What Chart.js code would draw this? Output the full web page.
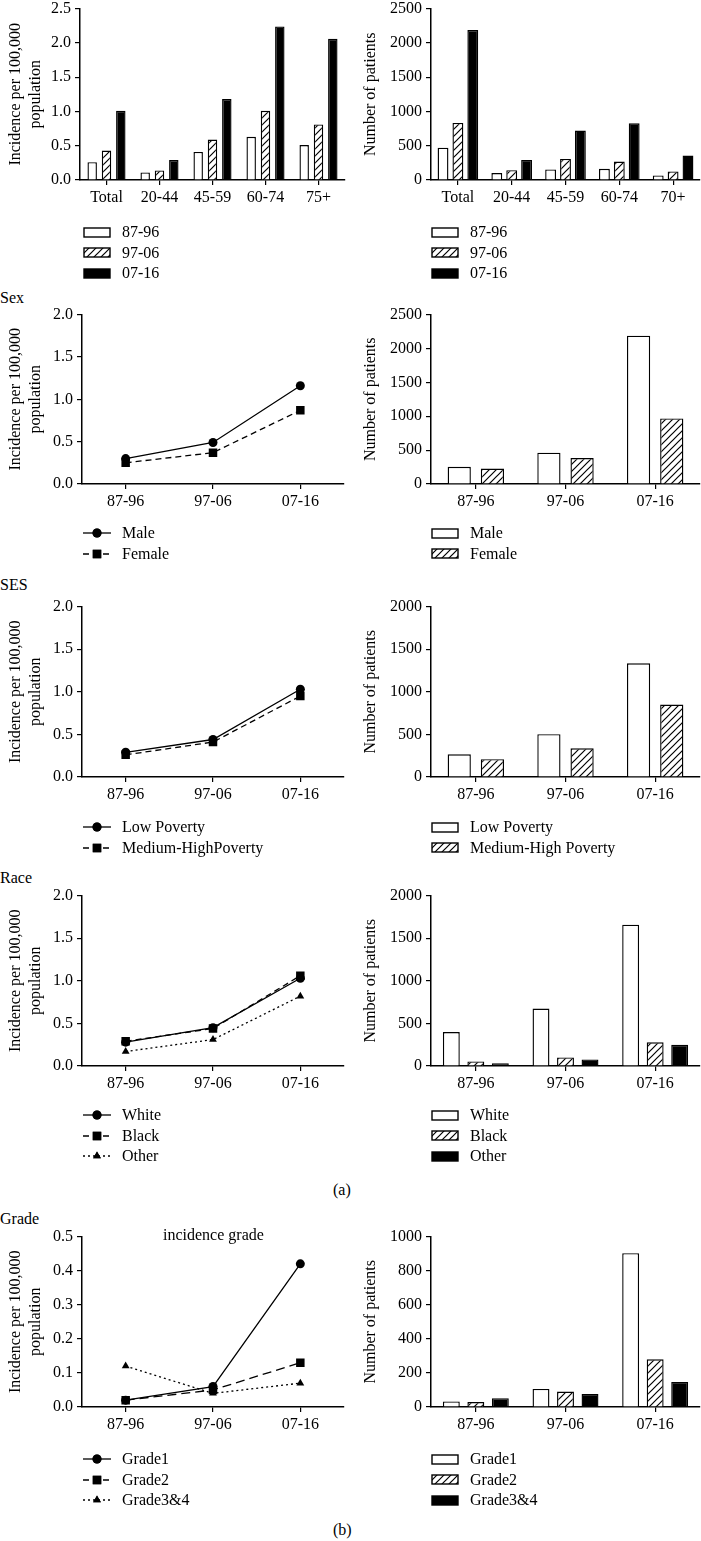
<!DOCTYPE html>
<html>
<head>
<meta charset="utf-8">
<script src="https://cdn.jsdelivr.net/npm/chart.js@4.4.1/dist/chart.umd.min.js"></script>
<style>
  html, body { margin: 0; padding: 0; background: #fff; }
  body { position: relative; width: 701px; height: 1541px; overflow: hidden;
         font-family: 'Liberation Serif', 'Times New Roman', serif; color: #000; }
  .abs { position: absolute; }
  .lbl { position: absolute; font-size: 16px; line-height: 20px; white-space: nowrap; }
  .legend { position: absolute; font-size: 16px; }
  .legend .row { height: 20.5px; display: flex; align-items: center; white-space: nowrap; }
  .legend canvas { margin-right: 11px; }
</style>
</head>
<body>
<div class="lbl" style="left:0;top:288px">Sex</div>
<div class="lbl" style="left:0;top:575px">SES</div>
<div class="lbl" style="left:0;top:868px">Race</div>
<div class="lbl" style="left:0;top:1209px">Grade</div>
<div class="lbl" style="left:333px;top:1180px">(a)</div>
<div class="lbl" style="left:333px;top:1520px">(b)</div>

<script>
// ---- data ----
const periods = ['87-96', '97-06', '07-16'];

const ageGroupsInc = ['Total', '20-44', '45-59', '60-74', '75+'];
const ageGroupsN = ['Total', '20-44', '45-59', '60-74', '70+'];
const ageInc8796 = [0.26, 0.11, 0.41, 0.63, 0.51];
const ageInc9706 = [0.43, 0.14, 0.59, 1.01, 0.81];
const ageInc0716 = [1.01, 0.29, 1.18, 2.24, 2.06];
const ageN8796 = [471, 101, 154, 163, 67];
const ageN9706 = [832, 144, 308, 269, 125];
const ageN0716 = [2188, 293, 721, 827, 356];

const sexIncMale = [0.30, 0.49, 1.16];
const sexIncFemale = [0.25, 0.37, 0.87];
const sexNMale = [253, 462, 2189];
const sexNFemale = [228, 384, 968];

const sesIncLow = [0.29, 0.44, 1.03];
const sesIncMed = [0.26, 0.41, 0.95];
const sesNLow = [267, 503, 1334];
const sesNMed = [209, 337, 851];

const raceIncWhite = [0.28, 0.45, 1.03];
const raceIncBlack = [0.29, 0.44, 1.06];
const raceIncOther = [0.17, 0.31, 0.82];
const raceNWhite = [399, 674, 1659];
const raceNBlack = [54, 101, 279];
const raceNOther = [31, 77, 248];

const gradeInc1 = [0.02, 0.06, 0.42];
const gradeInc2 = [0.02, 0.05, 0.13];
const gradeInc34 = [0.12, 0.04, 0.07];
const gradeN1 = [33, 106, 903];
const gradeN2 = [29, 91, 280];
const gradeN34 = [52, 77, 147];

const incTitle = ['Incidence per 100,000', 'population'];
const nTitle = 'Number of patients';

// ---- styling helpers ----
const FONT = "'Liberation Serif', 'Times New Roman', serif";
const FS = 16;
Chart.defaults.font.family = FONT;
Chart.defaults.color = '#000';

function makeHatch() {
  const c = document.createElement('canvas');
  c.width = 7; c.height = 7;
  const g = c.getContext('2d');
  g.fillStyle = '#fff';
  g.fillRect(0, 0, 7, 7);
  g.strokeStyle = '#000';
  g.lineWidth = 1.2;
  g.beginPath();
  g.moveTo(0, 7); g.lineTo(7, 0);
  g.moveTo(-1, 1); g.lineTo(1, -1);
  g.moveTo(6, 8); g.lineTo(8, 6);
  g.stroke();
  return g.createPattern(c, 'repeat');
}
const hatch = makeHatch();
const fills = ['#fff', hatch, '#000'];

const lineStyles = [
  { dash: [], point: 'circle', r: 4.5 },
  { dash: [6, 4], point: 'rect', r: 6 },
  { dash: [2, 3], point: 'triangle', r: 4.5 }
];

function barSets(names, series) {
  return series.map((d, i) => ({
    label: names[i], data: d, backgroundColor: fills[i],
    borderColor: '#000', borderWidth: 1.4
  }));
}

function lineSets(names, series, dashes) {
  return series.map((d, i) => {
    const st = lineStyles[i];
    return {
      label: names[i], data: d, borderColor: '#000', borderWidth: 1.3,
      borderDash: dashes ? dashes[i] : st.dash,
      pointStyle: st.point, pointRadius: st.r, pointBackgroundColor: '#000',
      pointBorderColor: '#000', pointBorderWidth: 0, tension: 0
    };
  });
}

// box: {left, width, axisX, axisRight, top, zero}
function makeChart(box, type, labels, datasets, y, barOpts) {
  const padTop = 12, xH = 34;
  const cv = document.createElement('canvas');
  const h = (box.zero - box.top) + padTop + xH;
  cv.width = box.width; cv.height = h;
  cv.className = 'abs';
  cv.style.left = box.left + 'px';
  cv.style.top = (box.top - padTop) + 'px';
  document.body.appendChild(cv);
  const yW = box.axisX - box.left;
  const tickGrid = { drawOnChartArea: false, drawTicks: true, tickLength: 5, color: '#000', lineWidth: 1.2 };
  if (barOpts) datasets.forEach(d => Object.assign(d, barOpts));
  return new Chart(cv, {
    type,
    data: { labels, datasets },
    options: {
      responsive: false, animation: false,
      layout: { padding: { top: padTop, left: 0, right: box.left + box.width - box.axisRight, bottom: 0 } },
      plugins: { legend: { display: false }, tooltip: { enabled: false } },
      scales: {
        x: {
          offset: true,
          grid: Object.assign({ offset: false }, tickGrid),
          border: { color: '#000', width: 1.5 },
          ticks: { font: { size: FS }, color: '#000', padding: 3, maxRotation: 0, autoSkip: false },
          afterFit: s => { s.height = xH; }
        },
        y: {
          min: y.min, max: y.max,
          grid: tickGrid,
          border: { color: '#000', width: 1.5 },
          ticks: { stepSize: y.step, font: { size: FS }, color: '#000', padding: 4, autoSkip: false,
                   callback: y.fmt },
          title: { display: true, text: y.title, color: '#000', font: { size: FS, lineHeight: 1.25 },
                   padding: { top: y.titlePad, bottom: 0 } },
          afterFit: s => { s.width = yW; }
        }
      }
    }
  });
}

function legendSwatch(kind, i) {
  const c = document.createElement('canvas');
  const g = c.getContext('2d');
  if (kind === 'bar') {
    c.width = 28; c.height = 11;
    g.fillStyle = fills[i];
    g.fillRect(1, 1, 26, 9);
    g.strokeStyle = '#000'; g.lineWidth = 1.4;
    g.strokeRect(1, 1, 26, 9);
  } else {
    const st = lineStyles[i];
    c.width = 28; c.height = 12;
    g.strokeStyle = '#000'; g.lineWidth = 1.3;
    g.setLineDash(st.dash);
    g.beginPath(); g.moveTo(0, 6); g.lineTo(28, 6); g.stroke();
    g.setLineDash([]);
    g.fillStyle = '#000';
    Chart.helpers.drawPoint(g, { pointStyle: st.point, radius: st.r, borderWidth: 0 }, 14, 6);
    g.fill();
  }
  return c;
}

function makeLegend(x, yCenter, kind, names) {
  const d = document.createElement('div');
  d.className = 'legend';
  d.style.left = x + 'px';
  d.style.top = (yCenter - 10.25) + 'px';
  names.forEach((n, i) => {
    const r = document.createElement('div');
    r.className = 'row';
    r.appendChild(legendSwatch(kind, i));
    const t = document.createElement('span');
    t.textContent = n;
    r.appendChild(t);
    d.appendChild(r);
  });
  document.body.appendChild(d);
}

const f1 = v => Number(v).toFixed(1);
const f0 = v => String(Math.round(v));
const L = (top, zero, axisX = 82) => ({ left: 0, width: 350, axisX, axisRight: 345, top, zero });
const R = (top, zero) => ({ left: 350, width: 351, axisX: 431, axisRight: 700, top, zero });
const incY = { min: 0, max: 2, step: 0.5, fmt: f1, title: incTitle, titlePad: 6 };
const nY2000 = { min: 0, max: 2000, step: 500, fmt: f0, title: nTitle, titlePad: 11 };
const bars3 = { categoryPercentage: 0.82, barPercentage: 0.69 };
const bars2 = { categoryPercentage: 0.74, barPercentage: 0.7 };

// ---- row 1: age ----
makeChart(L(7, 180, 80), 'bar', ageGroupsInc,
  barSets(periods, [ageInc8796, ageInc9706, ageInc0716]),
  Object.assign({}, incY, { max: 2.5 }), { categoryPercentage: 0.81, barPercentage: 0.66 });
makeChart(R(7, 180), 'bar', ageGroupsN,
  barSets(periods, [ageN8796, ageN9706, ageN0716]),
  Object.assign({}, nY2000, { max: 2500 }), { categoryPercentage: 0.83, barPercentage: 0.73 });
makeLegend(83, 232, 'bar', periods);
makeLegend(431, 232, 'bar', periods);

// ---- row 2: sex ----
const sexNames = ['Male', 'Female'];
makeChart(L(313, 484), 'line', periods, lineSets(sexNames, [sexIncMale, sexIncFemale]), incY);
makeChart(R(313, 484), 'bar', periods, barSets(sexNames, [sexNMale, sexNFemale]),
  Object.assign({}, nY2000, { max: 2500 }), bars2);
makeLegend(83, 533, 'line', sexNames);
makeLegend(431, 533, 'bar', sexNames);

// ---- row 3: SES ----
makeChart(L(605, 777), 'line', periods, lineSets(['Low Poverty', 'Medium-HighPoverty'], [sesIncLow, sesIncMed]), incY);
makeChart(R(605, 777), 'bar', periods, barSets(['Low Poverty', 'Medium-High Poverty'], [sesNLow, sesNMed]), nY2000, bars2);
makeLegend(83, 827, 'line', ['Low Poverty', 'Medium-HighPoverty']);
makeLegend(431, 827, 'bar', ['Low Poverty', 'Medium-High Poverty']);

// ---- row 4: race ----
const raceNames = ['White', 'Black', 'Other'];
makeChart(L(894, 1066), 'line', periods, lineSets(raceNames, [raceIncWhite, raceIncBlack, raceIncOther]), incY);
makeChart(R(894, 1066), 'bar', periods, barSets(raceNames, [raceNWhite, raceNBlack, raceNOther]), nY2000, bars3);
makeLegend(83, 1115, 'line', raceNames);
makeLegend(431, 1115, 'bar', raceNames);

// ---- row 5: grade ----
const gradeNames = ['Grade1', 'Grade2', 'Grade3&4'];
makeChart(L(1235, 1407), 'line', periods,
  lineSets(gradeNames, [gradeInc1, gradeInc2, gradeInc34], [[], [9, 5], [2, 3]]),
  Object.assign({}, incY, { max: 0.5, step: 0.1 }));
makeChart(R(1235, 1407), 'bar', periods, barSets(gradeNames, [gradeN1, gradeN2, gradeN34]),
  Object.assign({}, nY2000, { max: 1000, step: 200 }), bars3);
makeLegend(83, 1459, 'line', gradeNames);
makeLegend(431, 1459, 'bar', gradeNames);
</script>
<div class="lbl" style="left:163px;top:1225px">incidence grade</div>
</body>
</html>
